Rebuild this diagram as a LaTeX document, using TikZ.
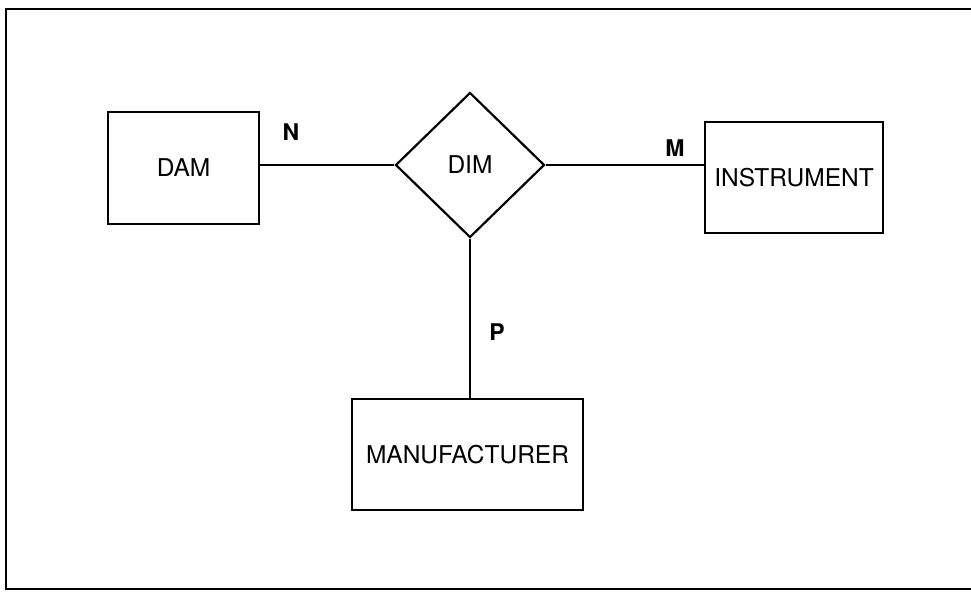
\documentclass[tikz,border=0pt]{standalone}
\usepackage{fontspec}
\setmainfont{TeX Gyre Heros}
\usetikzlibrary{shapes.geometric}

\begin{document}
\begin{tikzpicture}[
  x=1pt, y=-1pt,
  ent/.style={draw, line width=2.2pt, inner sep=0pt,
              font=\fontsize{24.5}{28}\selectfont},
  rel/.style={draw, diamond, line width=2.2pt, inner sep=0pt,
              minimum width=149pt, minimum height=145pt,
              font=\fontsize{24.5}{28}\selectfont},
  card/.style={inner sep=0pt, font=\fontsize{23}{27}\selectfont\bfseries},
  ln/.style={line width=2pt},
  frame/.style={line width=2.8pt}
]
  \useasboundingbox (0,0) rectangle (971,597);
  \draw[frame] (971,9) -- (6,9) -- (6,589) -- (971,589);

  \node[ent, minimum width=151pt, minimum height=112pt] (dam) at (183.5,168) {DAM};
  \node[rel] (dim) at (470,165) {DIM};
  \node[ent, minimum width=178pt, minimum height=111pt] (ins) at (794,177.5) {INSTRUMENT};
  \node[ent, minimum width=231pt, minimum height=111pt] (mfr) at (467.5,454.5) {MANUFACTURER};

  \node[card] (cn) at (291,132) {N};
  \node[card] (cm) at (675,148) {M};
  \node[card] (cp) at (497,332) {P};

  \draw[ln] (dim.west) -- (dim.west -| dam.east);
  \draw[ln] (dim.east) -- (dim.east -| ins.west);
  \draw[ln] (dim.south) -- (dim.south |- mfr.north);
\end{tikzpicture}
\end{document}
